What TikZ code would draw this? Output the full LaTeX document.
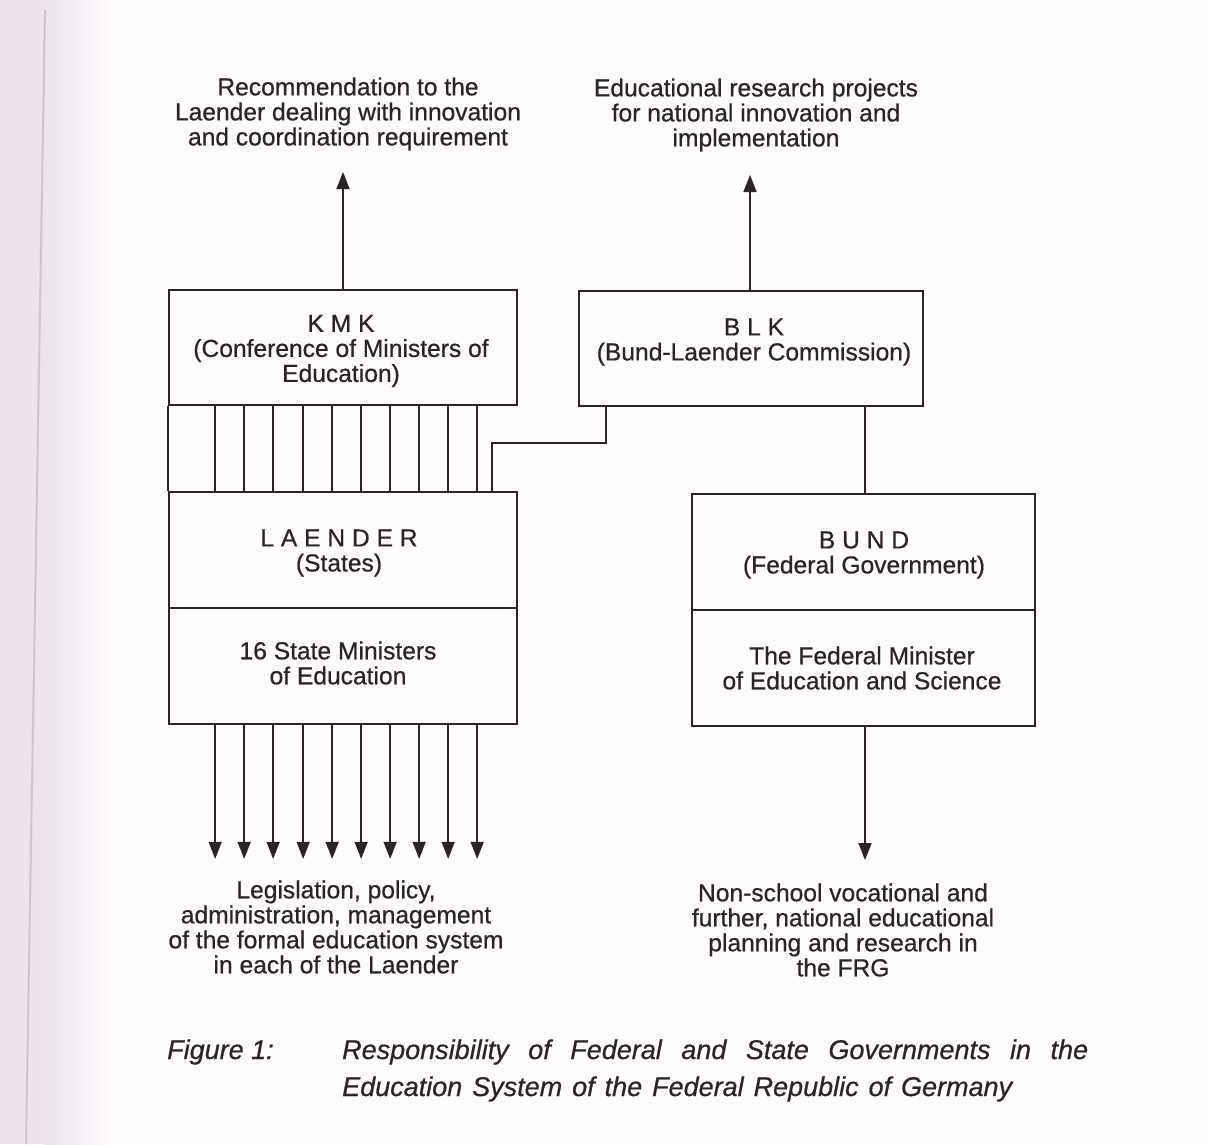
\documentclass[tikz,border=0pt]{standalone}
\usepackage{fontspec}
\setmainfont{Liberation Sans}[FakeBold=0.6]
\usetikzlibrary{arrows.meta,calc}
\definecolor{ink}{HTML}{2A2327}
\definecolor{paper}{HTML}{FEFCFE}
\definecolor{strip}{HTML}{ECE3EB}
\begin{document}
\begin{tikzpicture}[x=1pt,y=-1pt,
  box/.style={draw=ink, line width=1.7pt, rectangle, inner sep=0pt, minimum width=#1},
  txt/.style={align=center, inner sep=0pt, text=ink, font=\fontsize{24.6}{25}\selectfont},
  captxt/.style={anchor=base west, inner sep=0pt, text=ink, font=\fontsize{27}{34}\selectfont\itshape},
  conn/.style={draw=ink, line width=1.7pt},
  arr/.style={conn, -{Triangle[length=17pt,width=13pt]}}]
% page and scanned margin
\fill[paper] (0,0) rectangle (1208,1144);
\useasboundingbox (0,0) rectangle (1208,1144);
\fill[strip] (0,0) rectangle (44,1144);
\shade[left color=strip, right color=paper] (44,0) rectangle (110,1144);
\draw[color=ink!25, line width=2pt] (45,10) -- (26,1144);

% boxes
\node[box=348pt, minimum height=115pt] (kmk) at (343,347.5) {};
\node[box=344pt, minimum height=115pt] (blk) at (751,348.5) {};
\node[box=348pt, minimum height=116pt] (laender) at (343,550) {};
\node[box=348pt, minimum height=116pt] (ministers) at (343,666) {};
\node[box=343pt, minimum height=116pt] (bund) at (863.5,552) {};
\node[box=343pt, minimum height=116pt] (fedmin) at (863.5,668) {};

% box texts
\node[txt] (kmkt) at (341,351) {K M K\\(Conference of Ministers of\\Education)};
\node[txt] (blkt) at (754,342) {B L K\\(Bund-Laender Commission)};
\node[txt] (laendert) at (339,553) {L A E N D E R\\(States)};
\node[txt] (ministerst) at (338,663) {16 State Ministers\\of Education};
\node[txt] (bundt) at (864,555) {B U N D\\(Federal Government)};
\node[txt] (fedmint) at (862,668) {The Federal Minister\\of Education and Science};

% outer texts
\node[txt] (topl) at (348,114) {Recommendation to the\\Laender dealing with innovation\\and coordination requirement};
\node[txt] (topr) at (756,115) {Educational research projects\\for national innovation and\\implementation};
\node[txt] (botl) at (336,927) {Legislation, policy,\\administration, management\\of the formal education system\\in each of the Laender};
\node[txt] (botr) at (843,930) {Non-school vocational and\\further, national educational\\planning and research in\\the FRG};

% caption
\node[captxt] (fig) at (167,1059) {Figure 1:};
\node[captxt] (cap1) at (342,1059) {\makebox[746pt][s]{Responsibility of Federal and State Governments in the}};
\node[captxt] (cap2) at (342,1096) {\makebox[670pt][s]{Education System of the Federal Republic of Germany}};

% upward arrows
\coordinate (kmkout) at (343,172);
\coordinate (blkout) at (750,175);
\draw[arr] (kmk.north) -- (kmkout);
\draw[arr] ([xshift=-1pt]blk.north) -- (blkout);

% KMK - LAENDER links
\draw[conn] (kmk.south west) -- (laender.north west);
\foreach \dx in {47,76,105,135,164,193,222,251,280,309}
  \draw[conn] ([xshift=\dx pt]kmk.south west) -- ([xshift=\dx pt]laender.north west);

% BLK - LAENDER link
\draw[conn] ([xshift=324pt]laender.north west) -- ++(0,-48) -| ([xshift=28pt]blk.south west);
% BLK - BUND link
\draw[conn] ([xshift=287pt]blk.south west) -- ([xshift=287pt]blk.south west |- bund.north);

% downward arrows
\foreach \dx in {47,76,105,135,164,193,222,251,280,309}
  \draw[arr] ([xshift=\dx pt]ministers.south west) -- ++(0,134);
\coordinate (bundout) at (865,860);
\draw[arr] ([xshift=1.5pt]fedmin.south) -- (bundout);
\end{tikzpicture}
\end{document}
